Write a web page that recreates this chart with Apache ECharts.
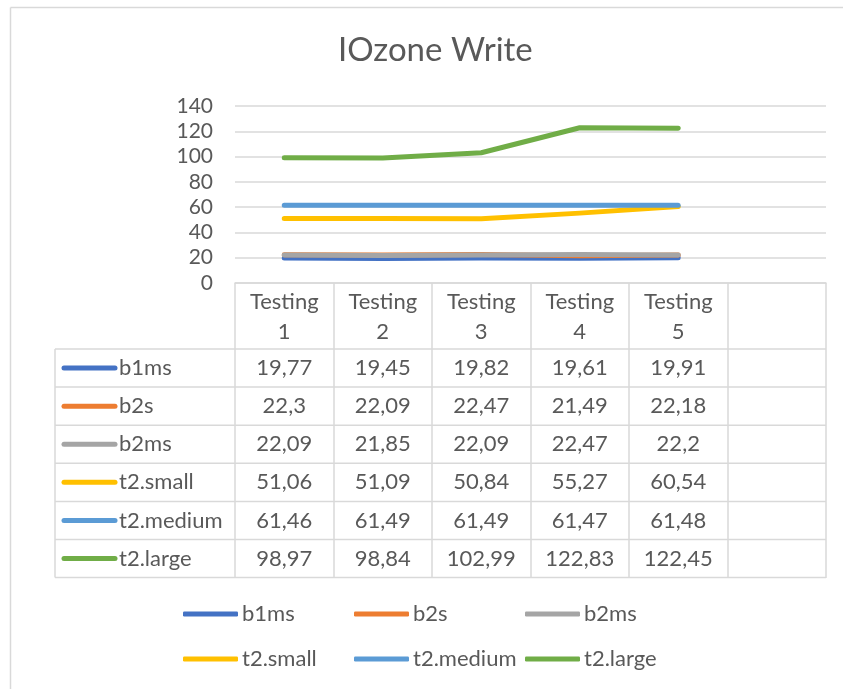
<!DOCTYPE html>
<html>
<head>
<meta charset="utf-8">
<title>IOzone Write</title>
<script src="https://cdn.jsdelivr.net/npm/echarts@6/dist/echarts.min.js"></script>
<style>
html, body { margin: 0; padding: 0; background: #fff; }
#main { width: 843px; height: 689px; }
</style>
</head>
<body>
<div id="main"></div>
<script>
var categories = ['Testing\n1', 'Testing\n2', 'Testing\n3', 'Testing\n4', 'Testing\n5', ''];
var seriesNames = ['b1ms', 'b2s', 'b2ms', 't2.small', 't2.medium', 't2.large'];
var b1ms = [19.77, 19.45, 19.82, 19.61, 19.91];
var b2s = [22.3, 22.09, 22.47, 21.49, 22.18];
var b2ms = [22.09, 21.85, 22.09, 22.47, 22.2];
var t2small = [51.06, 51.09, 50.84, 55.27, 60.54];
var t2medium = [61.46, 61.49, 61.49, 61.47, 61.48];
var t2large = [98.97, 98.84, 102.99, 122.83, 122.45];
var yTicks = [0, 20, 40, 60, 80, 100, 120, 140];

var allValues = [b1ms, b2s, b2ms, t2small, t2medium, t2large];
var colors = ['#4472C4', '#ED7D31', '#A5A5A5', '#FFC000', '#5B9BD5', '#70AD47'];
var font = 'Lato, "Open Sans", sans-serif';
var textColor = '#595959';
var gridColor = '#d9d9d9';
var cellFont = '22px ' + font;

var chart = echarts.init(document.getElementById('main'));

var series = seriesNames.map(function(name, i) {
	return {
		name: name,
		type: 'line',
		data: allValues[i],
		symbol: 'none',
		lineStyle: { width: 5, color: colors[i], cap: 'round', join: 'round' },
		itemStyle: { color: colors[i] },
		z: 2 + i
	};
});

// legend below the table, 3 per row
var legendPos = [[183, 603], [354, 603], [525, 603], [183, 648], [354, 648], [525, 648]];
var legends = seriesNames.map(function(name, i) {
	return {
		data: [name],
		left: legendPos[i][0],
		top: legendPos[i][1],
		padding: 0,
		icon: 'roundRect',
		itemWidth: 55,
		itemHeight: 5,
		selectedMode: false,
		textStyle: { color: textColor, fontSize: 22, fontFamily: font, padding: [0, 0, 0, -1] }
	};
});

var option = {
	animation: false,
	backgroundColor: '#fff',
	color: colors,
	title: {
		text: 'IOzone Write',
		left: 333,
		top: 29,
		textStyle: { color: textColor, fontSize: 33, fontWeight: 'normal', fontFamily: font }
	},
	legend: legends,
	grid: { left: 235, right: 17, top: 106, bottom: 406 },
	xAxis: {
		type: 'category',
		data: categories,
		boundaryGap: true,
		axisLine: { show: true, lineStyle: { color: gridColor, width: 1.5 } },
		axisTick: { show: true, inside: false, length: 295, lineStyle: { color: gridColor, width: 1.5 } },
		axisLabel: { show: false },
		splitLine: { show: false }
	},
	yAxis: {
		type: 'value',
		min: yTicks[0],
		max: yTicks[yTicks.length - 1],
		interval: 20,
		axisLine: { show: false },
		axisTick: { show: false },
		axisLabel: { color: textColor, fontSize: 21, fontFamily: font, margin: 22 },
		splitLine: { lineStyle: { color: gridColor, width: 1.5 } }
	},
	series: series
};

chart.setOption(option);

// data table under the plot
function buildTable() {
	var g = [];
	var rowTop = 349, rowH = 38.1, tableLeft = 55, tableRight = 826;
	// chart frame, only top and left edges fall inside the picture
	g.push({ type: 'line', silent: true, z: 0,
		shape: { x1: 10.5, y1: 7.5, x2: 843, y2: 7.5 },
		style: { stroke: gridColor, lineWidth: 1.5 } });
	g.push({ type: 'line', silent: true, z: 0,
		shape: { x1: 10.5, y1: 7.5, x2: 10.5, y2: 689 },
		style: { stroke: gridColor, lineWidth: 1.5 } });
	for (var k = 0; k <= seriesNames.length; k++) {
		var y = rowTop + rowH * k;
		g.push({
			type: 'line', silent: true,
			shape: { x1: tableLeft, y1: y, x2: tableRight, y2: y },
			style: { stroke: gridColor, lineWidth: 1.5 }
		});
	}
	g.push({
		type: 'line', silent: true,
		shape: { x1: tableLeft, y1: rowTop, x2: tableLeft, y2: rowTop + rowH * seriesNames.length },
		style: { stroke: gridColor, lineWidth: 1.5 }
	});
	// header
	categories.forEach(function(c, j) {
		if (!c) return;
		var x = chart.convertToPixel({ xAxisIndex: 0 }, j);
		var parts = c.split('\n');
		g.push({ type: 'text', silent: true, x: x, y: 302,
			style: { text: parts[0], fill: textColor, font: cellFont, align: 'center', verticalAlign: 'middle' } });
		g.push({ type: 'text', silent: true, x: x, y: 332,
			style: { text: parts[1], fill: textColor, font: cellFont, align: 'center', verticalAlign: 'middle' } });
	});
	// rows
	seriesNames.forEach(function(name, i) {
		var cy = rowTop + rowH * (i + 0.5);
		g.push({ type: 'line', silent: true,
			shape: { x1: 64, y1: cy, x2: 115, y2: cy },
			style: { stroke: colors[i], lineWidth: 5, lineCap: 'round' } });
		g.push({ type: 'text', silent: true, x: 119, y: cy,
			style: { text: name, fill: textColor, font: cellFont, align: 'left', verticalAlign: 'middle' } });
		allValues[i].forEach(function(v, j) {
			var x = chart.convertToPixel({ xAxisIndex: 0 }, j);
			g.push({ type: 'text', silent: true, x: x, y: cy,
				style: { text: String(v).replace('.', ','), fill: textColor, font: cellFont, align: 'center', verticalAlign: 'middle' } });
		});
	});
	chart.setOption({ graphic: g });
}
buildTable();
</script>
</body>
</html>
